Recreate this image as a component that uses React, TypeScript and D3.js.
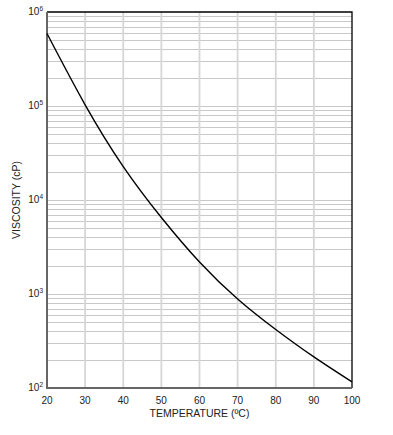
import React from "react";
import * as d3 from "d3";
import { useRef, useEffect } from "react";

const temperatures = [20, 30, 40, 50, 60, 70, 80, 90, 100];
const viscosity = [590000, 103000, 22700, 6515, 2190, 885, 419, 214, 116];
const xTicks = [20, 30, 40, 50, 60, 70, 80, 90, 100];
const decades = [2, 3, 4, 5, 6];

export default function App() {
  const chartRef = useRef<HTMLDivElement>(null);

  useEffect(() => {
    const width = 393;
    const height = 435;
    const margin = { top: 12, right: 41, bottom: 47, left: 47 };

    d3.select(chartRef.current).selectAll("*").remove();

    const svg = d3
      .select(chartRef.current)
      .append("svg")
      .attr("width", width)
      .attr("height", height)
      .style("position", "absolute")
      .style("left", "0px")
      .style("top", "0px")
      .style("font-family", "'Liberation Sans', Arial, sans-serif");

    const x = d3
      .scaleLinear()
      .domain([20, 100])
      .range([margin.left, width - margin.right]);
    const y = d3
      .scaleLog()
      .domain([100, 1000000])
      .range([height - margin.bottom, margin.top]);

    // minor + decade horizontal grid
    const minor: number[] = [];
    for (let e = 2; e < 6; e++) {
      for (let m = 1; m < 10; m++) minor.push(m * Math.pow(10, e));
    }
    svg
      .append("g")
      .selectAll("line")
      .data(minor)
      .enter()
      .append("line")
      .attr("x1", margin.left)
      .attr("x2", width - margin.right)
      .attr("y1", (d) => Math.round(y(d)) + 0.5)
      .attr("y2", (d) => Math.round(y(d)) + 0.5)
      .attr("stroke", "#c8c8c8")
      .attr("stroke-width", 1.2);

    // vertical grid
    svg
      .append("g")
      .selectAll("line")
      .data(xTicks.slice(1, -1))
      .enter()
      .append("line")
      .attr("x1", (d) => x(d))
      .attr("x2", (d) => x(d))
      .attr("y1", margin.top)
      .attr("y2", height - margin.bottom)
      .attr("stroke", "#d6d6d6")
      .attr("stroke-width", 1.8);

    // frame: top and right black
    svg
      .append("path")
      .attr(
        "d",
        `M${margin.left},${margin.top}H${width - margin.right}V${height - margin.bottom}`
      )
      .attr("fill", "none")
      .attr("stroke", "#000")
      .attr("stroke-width", 1.3);

    // left and bottom axes in dark grey
    svg
      .append("path")
      .attr(
        "d",
        `M${margin.left},${margin.top}V${height - margin.bottom}H${width - margin.right}`
      )
      .attr("fill", "none")
      .attr("stroke", "#666")
      .attr("stroke-width", 2);

    // curve
    const line = d3
      .line<number>()
      .x((d, i) => x(temperatures[i]))
      .y((d) => y(d))
      .curve(d3.curveNatural);
    svg
      .append("path")
      .attr("d", line(viscosity))
      .attr("fill", "none")
      .attr("stroke", "#000")
      .attr("stroke-width", 1.4);

    // x tick labels
    svg
      .append("g")
      .selectAll("text")
      .data(xTicks)
      .enter()
      .append("text")
      .attr("x", (d) => x(d))
      .attr("y", height - margin.bottom + 16)
      .attr("text-anchor", "middle")
      .attr("font-size", 10)
      .attr("fill", "#222")
      .text((d) => d);

    // y tick labels 10^n
    const yl = svg
      .append("g")
      .selectAll("text")
      .data(decades)
      .enter()
      .append("text")
      .attr("x", margin.left - 4)
      .attr("y", (d) => y(Math.pow(10, d)) + 3)
      .attr("text-anchor", "end")
      .attr("font-size", 10)
      .attr("fill", "#222");
    yl.append("tspan").text("10");
    yl.append("tspan")
      .attr("dy", -4)
      .attr("font-size", 6.5)
      .text((d) => d);

    // axis titles
    svg
      .append("text")
      .attr("x", (margin.left + width - margin.right) / 2)
      .attr("y", height - margin.bottom + 29)
      .attr("text-anchor", "middle")
      .attr("font-size", 10.5)
      .attr("fill", "#222")
      .text("TEMPERATURE (ºC)");

    svg
      .append("text")
      .attr(
        "transform",
        `translate(20,${(margin.top + height - margin.bottom) / 2}) rotate(-90)`
      )
      .attr("text-anchor", "middle")
      .attr("font-size", 10.5)
      .attr("fill", "#222")
      .text("VISCOSITY (cP)");
  }, []);

  return <div ref={chartRef} />;
}
